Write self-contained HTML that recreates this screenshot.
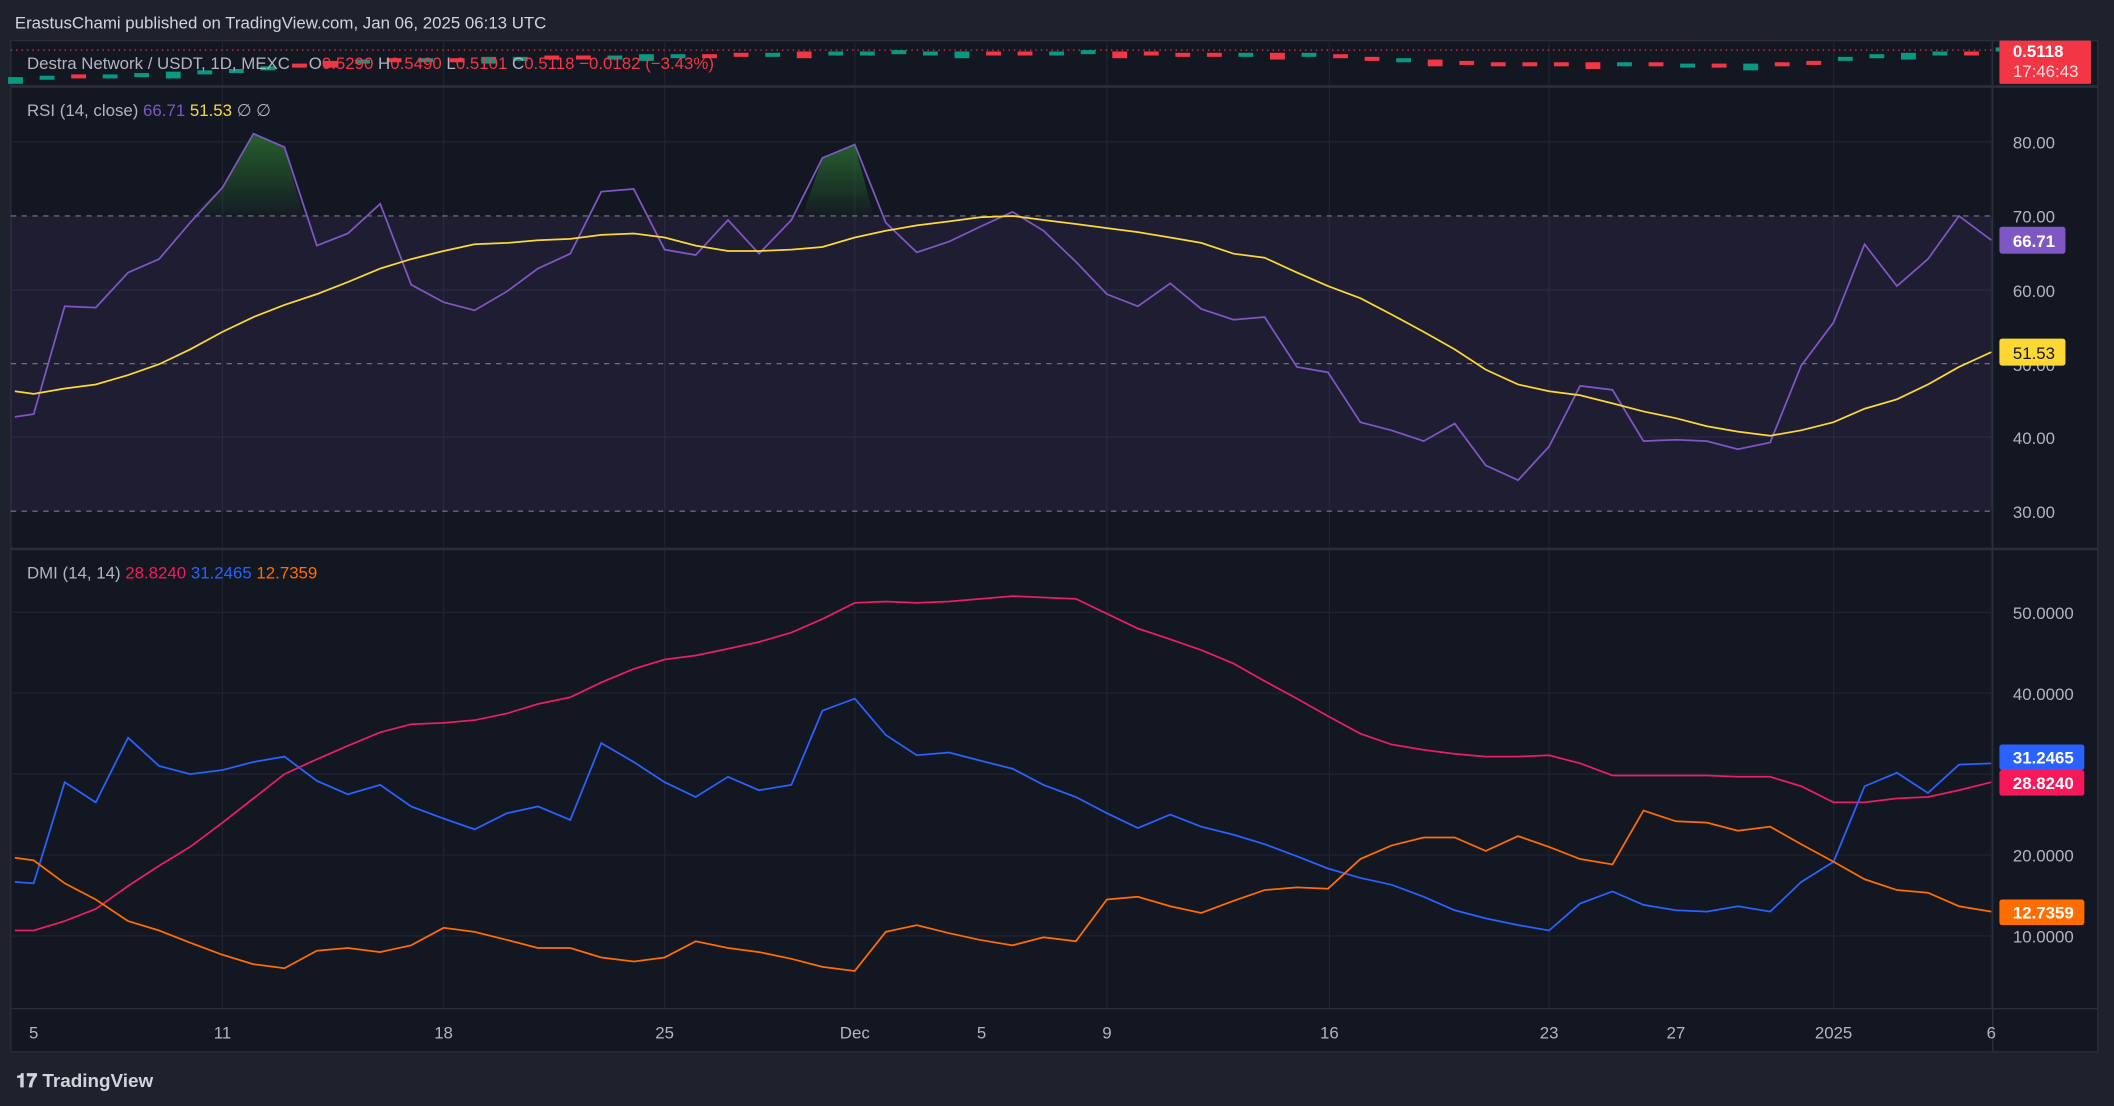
<!DOCTYPE html>
<html><head><meta charset="utf-8"><style>
html,body{margin:0;padding:0;background:#1e222d;width:2114px;height:1106px;overflow:hidden}
svg{display:block}
text{font-family:"Liberation Sans",sans-serif}
</style></head><body>
<svg id="s" width="2114" height="1106" viewBox="0 0 1568 820" xmlns="http://www.w3.org/2000/svg">
<defs>
<linearGradient id="og" x1="0" y1="0" x2="0" y2="1"><stop offset="0" stop-color="#2e7d32" stop-opacity="0.7"/><stop offset="1" stop-color="#2e7d32" stop-opacity="0.05"/></linearGradient>
<clipPath id="above70"><rect x="0" y="0" width="1478" height="160"/></clipPath>
</defs>
<rect width="1568" height="820" fill="#1e222d"/>
<text x="11" y="21" font-size="12.5" fill="#d1d4dc">ErastusChami published on TradingView.com, Jan 06, 2025 06:13 UTC</text>
<rect x="8" y="30" width="1548" height="750" fill="#131722" stroke="#2a2e39"/>
<g stroke="#1f2330" stroke-width="1">
<line x1="165" y1="30" x2="165" y2="748"/><line x1="329" y1="30" x2="329" y2="748"/><line x1="493" y1="30" x2="493" y2="748"/><line x1="634" y1="30" x2="634" y2="748"/><line x1="821" y1="30" x2="821" y2="748"/><line x1="986" y1="30" x2="986" y2="748"/><line x1="1149" y1="30" x2="1149" y2="748"/><line x1="1360" y1="30" x2="1360" y2="748"/><line x1="1477" y1="30" x2="1477" y2="748"/>
<line x1="8" y1="105" x2="1478" y2="105"/><line x1="8" y1="215" x2="1478" y2="215"/><line x1="8" y1="324" x2="1478" y2="324"/>
<line x1="8" y1="454" x2="1478" y2="454"/><line x1="8" y1="514" x2="1478" y2="514"/><line x1="8" y1="574" x2="1478" y2="574"/><line x1="8" y1="634" x2="1478" y2="634"/><line x1="8" y1="694" x2="1478" y2="694"/>
</g>
<line x1="8" y1="64" x2="1556" y2="64" stroke="#2a2e39" stroke-width="2"/>
<line x1="8" y1="407" x2="1556" y2="407" stroke="#2a2e39" stroke-width="2"/>
<line x1="8" y1="748" x2="1556" y2="748" stroke="#2a2e39"/>
<line x1="1478" y1="30" x2="1478" y2="780" stroke="#2a2e39"/>
<line x1="8" y1="37" x2="1478" y2="37" stroke="#f23645" stroke-dasharray="1 3"/>
<g id="candles"></g>
<text x="20" y="51" font-size="12.5" fill="#b2b5be">Destra Network / USDT, 1D, MEXC</text>
<text x="229" y="51" font-size="12.5" fill="#b2b5be">O<tspan fill="#f23645">0.5290</tspan> H<tspan fill="#f23645">0.5490</tspan> L<tspan fill="#f23645">0.5101</tspan> C<tspan fill="#f23645">0.5118</tspan> <tspan fill="#f23645">−0.0182 (−3.43%)</tspan></text>
<!-- RSI -->
<rect x="8" y="160" width="1470" height="219" fill="#7e57c2" fill-opacity="0.1"/>
<line x1="8" y1="160" x2="1478" y2="160" stroke="#787b86" stroke-dasharray="4 4" stroke-width="0.8"/>
<line x1="8" y1="269.6" x2="1478" y2="269.6" stroke="#787b86" stroke-dasharray="4 4" stroke-width="0.8"/>
<line x1="8" y1="379" x2="1478" y2="379" stroke="#787b86" stroke-dasharray="4 4" stroke-width="0.8"/>
<g clip-path="url(#above70)">
<polygon points="141,160 165,139 188,99 211,109 225,160" fill="url(#og)"/>
<polygon points="595,160 610,117 634,107 648,160" fill="url(#og)"/>
</g>
<text x="20" y="86" font-size="12.5" fill="#b2b5be">RSI (14, close) <tspan fill="#7e57c2">66.71</tspan> <tspan fill="#fdd835">51.53</tspan> ∅ ∅</text>
<polyline fill="none" stroke="#7e57c2" stroke-width="1.3" points="11,309 25,307 48,227 71,228 95,202 118,192 141,165 165,139 188,99 211,109 235,182 258,173 282,151 305,211 329,224 352,230 376,216 399,199 423,188 446,142 470,140 493,185 516,189 540,163 563,188 587,163 610,117 634,107 657,165 680,187 704,179 727,168 751,157 774,171 798,194 821,218 844,227 868,210 891,229 915,237 938,235 962,272 985,276 1009,313 1032,319 1056,327 1079,314 1102,345 1126,356 1149,331 1172,286 1196,289 1219,327 1243,326 1266,327 1289,333 1313,328 1336,271 1360,239 1383,181 1407,212 1430,192 1453,160 1477,178"/>
<polyline fill="none" stroke="#fdd835" stroke-width="1.3" points="11,290 25,292 48,288 71,285 95,278 118,270 141,259 165,246 188,235 211,226 235,218 258,209 282,199 305,192 329,186 352,181 376,180 399,178 423,177 446,174 470,173 493,176 516,182 540,186 563,186 587,185 610,183 634,176 657,171 680,167 704,164 727,161 751,160 774,163 798,166 821,169 844,172 868,176 891,180 915,188 938,191 962,202 985,212 1009,221 1032,233 1056,246 1079,259 1102,274 1126,285 1149,290 1172,293 1196,299 1219,305 1243,310 1266,316 1289,320 1313,323 1336,319 1360,313 1383,303 1407,296 1430,285 1453,272 1477,261"/>
<!-- DMI -->
<text x="20" y="429" font-size="12.5" fill="#b2b5be">DMI (14, 14) <tspan fill="#f7185a">28.8240</tspan> <tspan fill="#2962ff">31.2465</tspan> <tspan fill="#ff6d00">12.7359</tspan></text>
<polyline fill="none" stroke="#e91e63" stroke-width="1.3" points="11,690 25,690 48,683 71,674 95,657 118,642 141,628 165,610 188,592 211,574 235,563 258,553 282,543 305,537 329,536 352,534 376,529 399,522 423,517 446,506 470,496 493,489 516,486 540,481 563,476 587,469 610,459 634,447 657,446 680,447 704,446 727,444 751,442 774,443 798,444 821,455 844,466 868,474 891,482 915,492 938,505 962,518 985,531 1009,544 1032,552 1056,556 1079,559 1102,561 1126,561 1149,560 1172,566 1196,575 1219,575 1243,575 1266,575 1289,576 1313,576 1336,583 1360,595 1383,595 1407,592 1430,591 1453,586 1477,580"/>
<polyline fill="none" stroke="#2962ff" stroke-width="1.3" points="11,654 25,655 48,580 71,595 95,547 118,568 141,574 165,571 188,565 211,561 235,579 258,589 282,582 305,598 329,607 352,615 376,603 399,598 423,608 446,551 470,565 493,580 516,591 540,576 563,586 587,582 610,527 634,518 657,545 680,560 704,558 727,564 751,570 774,582 798,591 821,603 844,614 868,604 891,613 915,619 938,626 962,635 985,644 1009,651 1032,656 1056,665 1079,675 1102,681 1126,686 1149,690 1172,670 1196,661 1219,671 1243,675 1266,676 1289,672 1313,676 1336,654 1360,639 1383,583 1407,573 1430,588 1453,567 1477,566"/>
<polyline fill="none" stroke="#ff6d00" stroke-width="1.3" points="11,636 25,638 48,655 71,667 95,683 118,690 141,699 165,708 188,715 211,718 235,705 258,703 282,706 305,701 329,688 352,691 376,697 399,703 423,703 446,710 470,713 493,710 516,698 540,703 563,706 587,711 610,717 634,720 657,691 680,686 704,692 727,697 751,701 774,695 798,698 821,667 844,665 868,672 891,677 915,668 938,660 962,658 985,659 1009,637 1032,627 1056,621 1079,621 1102,631 1126,620 1149,628 1172,637 1196,641 1219,601 1243,609 1266,610 1289,616 1313,613 1336,626 1360,639 1383,652 1407,660 1430,662 1453,672 1477,676"/>
<!-- price axis -->
<g font-size="12.5" fill="#b2b5be">
<text x="1493" y="110">80.00</text><text x="1493" y="165">70.00</text><text x="1493" y="220">60.00</text><text x="1493" y="275">50.00</text><text x="1493" y="329">40.00</text><text x="1493" y="384">30.00</text>
<text x="1493" y="459">50.0000</text><text x="1493" y="519">40.0000</text><text x="1493" y="639">20.0000</text><text x="1493" y="699">10.0000</text>
</g>
<rect x="1483" y="30" width="68" height="32" fill="#f23645" rx="1"/>
<text x="1493" y="42" font-size="12.5" fill="#fff" font-weight="bold">0.5118</text>
<text x="1493" y="57" font-size="12.5" fill="#fcdcdf">17:46:43</text>
<rect x="1483" y="168" width="49" height="20" fill="#7e57c2" rx="2"/>
<text x="1493" y="183" font-size="12.5" fill="#fff" font-weight="bold">66.71</text>
<rect x="1483" y="251" width="49" height="20" fill="#fdd835" rx="2"/>
<text x="1493" y="266" font-size="12.5" fill="#131722">51.53</text>
<rect x="1483" y="552" width="63" height="19" fill="#2962ff" rx="2"/>
<text x="1493" y="566" font-size="12.5" fill="#fff" font-weight="bold">31.2465</text>
<rect x="1483" y="571" width="63" height="19" fill="#f7185a" rx="2"/>
<text x="1493" y="585" font-size="12.5" fill="#fff" font-weight="bold">28.8240</text>
<rect x="1483" y="667" width="63" height="19" fill="#ff6d00" rx="2"/>
<text x="1493" y="681" font-size="12.5" fill="#fff" font-weight="bold">12.7359</text>
<!-- x axis -->
<g font-size="12.5" fill="#b2b5be" text-anchor="middle">
<text x="25" y="770">5</text><text x="165" y="770">11</text><text x="329" y="770">18</text><text x="493" y="770">25</text><text x="634" y="770">Dec</text><text x="728" y="770">5</text><text x="821" y="770">9</text><text x="986" y="770">16</text><text x="1149" y="770">23</text><text x="1243" y="770">27</text><text x="1360" y="770">2025</text><text x="1477" y="770">6</text>
</g>
<text x="12" y="806" font-size="14" fill="#d1d4dc" font-weight="bold">𝟏𝟕 TradingView</text>
</svg>
<script>
var g=document.getElementById('candles'),ns='http://www.w3.org/2000/svg';
var ys=[59,58,57,57,56,55,54,53,51,49,47,46,45,45,45,44,44,43,43,43,42,42,42,41,41,40,40,40,39,40,40,40,40,40,39,40,40,41,41,41,41,41,42,44,45,46,47,48,48,48,48,48,48,49,49,49,48,47,44,42,41,40,40,37,36];
var cols="ggrggggggrrgrgrggrrgggrrgrgggggrrggrrrrgrgrrgrrrrrrgrgrgrrggggrgr";
for(var i=0;i<ys.length;i++){var x=11+i*23.4-5;var r=document.createElementNS(ns,'rect');r.setAttribute('x',x);r.setAttribute('y',ys[i]-2);r.setAttribute('width',11);r.setAttribute('height',(i%5==0?5:3));r.setAttribute('fill',cols[i]=='g'?'#089981':'#f23645');g.appendChild(r);}
</script>
</body></html>
